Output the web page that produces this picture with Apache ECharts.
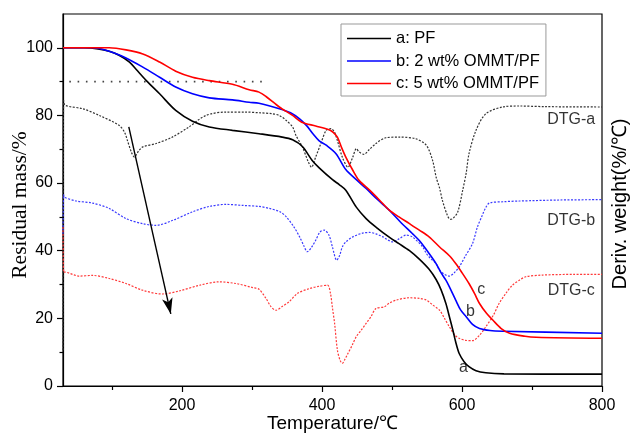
<!DOCTYPE html>
<html><head><meta charset="utf-8">
<script src="https://cdn.jsdelivr.net/npm/echarts@6/dist/echarts.min.js"></script>
<style>html,body{margin:0;padding:0;background:#fff}#c{width:630px;height:434px}</style>
</head><body><div id="c"></div>
<script>
// ---- data ----
var xTicks = [200, 400, 600, 800];
var xMinorTicks = [100, 300, 500, 700];
var yTicks = [0, 20, 40, 60, 80, 100];
var yMinorTicks = [10, 30, 50, 70, 90];

var tgA = [[30,100],[60,100],[80,99.7],[96,99],[110,97.8],[125,95.8],[135,93.5],[149,90.3],[168,86.4],[191,81.5],[215,78.3],[239,76.6],[272,75.6],[310,74.6],[343,73.6],[358,72.8],[372,70.8],[386,66.7],[396,64.5],[415,61],[425,59.5],[434,57.9],[449,52.9],[463,49.5],[477,47],[496,44],[510,42.1],[525,40],[539,37.5],[553,34.5],[563,31.5],[570,28.5],[577,24.4],[582,20.5],[587,16.5],[591,13],[596,9.6],[603,7.2],[610,5.7],[620,4.5],[634,3.9],[660,3.6],[800,3.5]];
var tgB = [[30,100],[72,100],[96,99],[120,97],[144,94.3],[168,91.3],[191,88.4],[215,86.4],[239,85.2],[272,84.6],[296,83.9],[310,83.6],[339,82],[355,80.8],[368,79],[378,77],[387,74.6],[396,72.5],[406,71.2],[420,68.7],[434,64],[449,61],[463,58.4],[480,55],[496,52],[512,48.5],[529,45.1],[539,43],[553,39.2],[563,36.2],[570,33.5],[577,31.3],[582,29.3],[591,25.4],[598,22.5],[606,20.5],[615,18.2],[625,17],[640,16.4],[658,16.2],[800,15.6]];
var tgC = [[30,100],[96,100],[120,99.4],[144,98.2],[168,95.8],[191,93.1],[215,91.3],[239,90.3],[272,89.2],[296,87.6],[310,86.9],[320,85.6],[339,82.5],[358,80],[371,78],[391,76.9],[410,75.8],[416,75],[422,73.6],[428,70.5],[434,67.7],[444,63.8],[453,60.8],[468,57.9],[482,55],[496,52],[510,50],[525,48],[539,46.1],[553,44.1],[568,41.1],[582,38.5],[591,36.2],[600,33.5],[610,30.3],[618,27.3],[625,24.4],[635,21.5],[644,19.5],[656,17],[668,15.6],[690,14.7],[706,14.4],[800,14.1]];

var dtgA = [[30,10.6],[31,84.4],[33,83],[58,82],[82,80],[110,77.1],[118,75],[122,72.6],[128,69],[132,67.7],[138,69.5],[144,70.7],[163,71.7],[186,73.6],[210,76.6],[234,80],[263,81],[291,81],[310,80.8],[329,80.5],[339,80],[349,78.5],[358,76.6],[363,74],[372,70.7],[380,66.5],[385,64.7],[391,67.7],[398,71.5],[406,75.6],[413,76.1],[418,75],[422,72.6],[429,67.7],[437,64.7],[444,67.7],[449,70.2],[453,69.2],[460,68.5],[468,70],[477,71.7],[491,73.4],[510,73.6],[534,73.1],[549,71.2],[558,66.7],[563,61.8],[568,58.5],[572,54.9],[579,50.5],[583,49.3],[587,49.5],[594,51.5],[601,57.9],[606,63],[610,68.7],[620,75.6],[634,80.5],[658,82.5],[682,82.8],[720,82.6],[800,82.5]];
var dtgB = [[30,45],[31,56.5],[32,55.8],[49,54.7],[72,54.1],[96,52.5],[120,49.5],[144,48],[163,47.5],[187,49],[215,51.5],[239,53.1],[263,53.7],[287,53.4],[310,53.1],[325,52.5],[340,51.5],[349,50],[360,47],[368,44.1],[374,41.5],[379,39.7],[385,41],[391,43.1],[397,45.5],[403,46.1],[410,44.6],[415,41],[421,37.2],[425,38.5],[429,41.1],[434,42.6],[444,44.1],[458,45.2],[468,45.4],[477,45],[487,44.1],[494,43.2],[501,42.6],[510,43.5],[520,44.6],[529,44.1],[544,41.1],[549,39.2],[556,37.5],[563,36.2],[568,34.2],[575,33],[582,32.5],[589,33.5],[596,35.2],[605,38.5],[615,42.1],[622,47],[629,50.5],[634,52.8],[639,54.1],[660,54.5],[682,54.7],[740,55],[800,55.1]];
var dtgC = [[30,47],[31,33.6],[32,33.7],[53,32.5],[72,32.7],[96,31.8],[120,30.3],[144,28.3],[172,27.2],[196,28.1],[225,29.8],[253,30.8],[277,30.3],[301,29.1],[310,28.6],[320,25.9],[327,23.5],[334,22.4],[343,23.5],[353,24.9],[365,27.4],[382,28.8],[396,29.5],[408,29.8],[412,27.5],[415,23],[418,18.5],[422,10.6],[426,7.5],[429,6.7],[433,8],[437,9.6],[443,12],[449,14.6],[456,16.5],[463,18.5],[470,20.5],[477,22.9],[489,23.4],[496,24.5],[506,25.4],[525,26.1],[539,25.9],[549,25.4],[558,24],[568,22.4],[575,20],[582,17.5],[590,15],[596,14.1],[605,13.5],[615,13.4],[625,15],[634,17.5],[645,21],[653,24.4],[663,27.5],[672,29.8],[682,31.3],[691,32.3],[715,32.8],[760,33],[800,33]];

var refLine = [[39,90],[322,90]];
var arrowFrom = [124,76.6];
var arrowTo = [184,21.3];

var annoText = ['DTG-a','DTG-b','DTG-c','a','b','c'];
var annoX = [756,756,756,602,612,627.5];
var annoY = [78.8,48.8,28.3,5.3,22,28.6];

var seriesNames = ['a: PF','b: 2 wt% OMMT/PF','c: 5 wt% OMMT/PF'];

// ---- chart ----
var chart = echarts.init(document.getElementById('c'), null, {renderer:'canvas'});
var SANS = 'Liberation Sans, Arial, sans-serif';
var annoData = annoText.map(function(t,i){return {name:t, value:[annoX[i],annoY[i]]};});

var option = {
  animation:false,
  backgroundColor:'#fff',
  grid:{left:63,right:28,top:14,bottom:48,show:true,borderColor:'#000',borderWidth:1.2,containLabel:false,outerBoundsMode:'none'},
  legend:{
    data:seriesNames, orient:'vertical', left:341, top:24, icon:'rect',
    itemWidth:44, itemHeight:1.6, itemGap:5.5, padding:[6,6,4,6],
    borderColor:'#999', borderWidth:1, backgroundColor:'#fff',
    textStyle:{fontFamily:SANS,fontSize:16.5,color:'#000',lineHeight:17}
  },
  xAxis:[{
    type:'value', min:30, max:800, position:'bottom',
    name:'Temperature/℃', nameLocation:'middle', nameGap:28, nameMoveOverlap:false,
    nameTextStyle:{fontFamily:SANS,fontSize:19,color:'#000'},
    axisLine:{show:true,lineStyle:{color:'#000',width:1.2}},
    axisTick:{show:true,inside:false,length:6,customValues:xTicks,lineStyle:{color:'#000',width:1.2}},
    axisLabel:{customValues:xTicks,fontFamily:SANS,fontSize:16,color:'#000',margin:12},
    splitLine:{show:false}
  },{
    type:'value', min:30, max:800, position:'bottom', gridIndex:0,
    axisLine:{show:false},
    axisTick:{show:true,inside:false,length:4,customValues:xMinorTicks,lineStyle:{color:'#000',width:1.2}},
    axisLabel:{show:false}, splitLine:{show:false}
  }],
  yAxis:[{
    type:'value', min:0, max:110, position:'left',
    name:'Residual mass/%', nameLocation:'middle', nameGap:32, nameRotate:90, nameMoveOverlap:false,
    nameTextStyle:{fontFamily:'Liberation Serif, Times New Roman, serif',fontSize:21.5,color:'#000',padding:[0,10,0,0]},
    axisLine:{show:true,lineStyle:{color:'#000',width:1.2}},
    axisTick:{show:true,inside:false,length:6,customValues:yTicks,lineStyle:{color:'#000',width:1.2}},
    axisLabel:{customValues:yTicks,fontFamily:SANS,fontSize:16,color:'#000',margin:10},
    splitLine:{show:false}
  },{
    type:'value', min:0, max:110, position:'left',
    axisLine:{show:false},
    axisTick:{show:true,inside:false,length:3.5,customValues:yMinorTicks,lineStyle:{color:'#000',width:1.2}},
    axisLabel:{show:false}, splitLine:{show:false}
  },{
    type:'value', min:0, max:110, position:'right',
    name:'Deriv. weight(%/℃)', nameLocation:'middle', nameGap:8, nameRotate:90, nameMoveOverlap:false,
    nameTextStyle:{fontFamily:SANS,fontSize:20,color:'#000',padding:[0,8,0,0]},
    axisLine:{show:false}, axisTick:{show:false}, axisLabel:{show:false}, splitLine:{show:false}
  }],
  series:[
    {type:'line',name:'dtgA',yAxisIndex:2,data:dtgA,symbol:'none',smooth:0.3,lineStyle:{color:'#333',width:1.2,type:[2,1.5]},z:2},
    {type:'line',name:'dtgB',yAxisIndex:2,data:dtgB,symbol:'none',smooth:0.3,lineStyle:{color:'#3a3aff',width:1.2,type:[2,1.5]},z:2},
    {type:'line',name:'dtgC',yAxisIndex:2,data:dtgC,symbol:'none',smooth:0.3,lineStyle:{color:'#ff3a3a',width:1.2,type:[2,1.5]},z:2},
    {type:'line',name:seriesNames[0],data:tgA,symbol:'none',smooth:0.3,lineStyle:{color:'#000',width:1.6},itemStyle:{color:'#000'},z:3},
    {type:'line',name:seriesNames[1],data:tgB,symbol:'none',smooth:0.3,lineStyle:{color:'#0000ff',width:1.6},itemStyle:{color:'#0000ff'},z:3},
    {type:'line',name:seriesNames[2],data:tgC,symbol:'none',smooth:0.3,lineStyle:{color:'#ff0000',width:1.6},itemStyle:{color:'#ff0000'},z:3},
    {type:'line',name:'ref',data:refLine,symbol:'none',lineStyle:{color:'#444',width:1.6,type:[1.6,6.7]},z:2,
     markLine:{silent:true,symbol:['none','arrow'],symbolSize:[8,16],animation:false,
       lineStyle:{color:'#000',width:1.4,type:'solid'},label:{show:false},
       data:[[{coord:arrowFrom},{coord:arrowTo}]]}},
    {type:'scatter',name:'anno',data:annoData,symbolSize:1,itemStyle:{color:'rgba(0,0,0,0)'},z:5,
     label:{show:true,position:'inside',formatter:function(p){return p.name;},fontFamily:SANS,fontSize:16,color:'#000'}}
  ]
};
chart.setOption(option);
</script>
</body></html>
